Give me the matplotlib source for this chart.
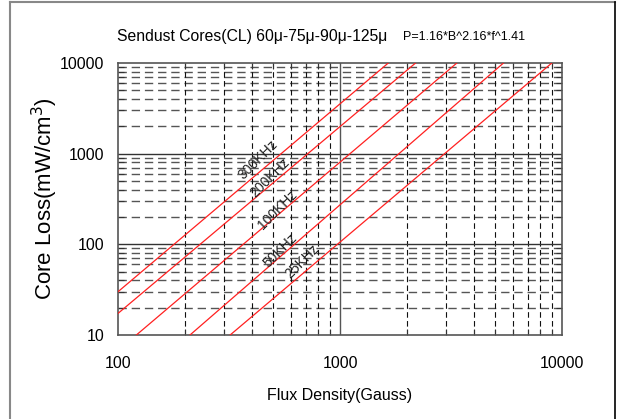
import matplotlib
matplotlib.use("Agg")
import matplotlib.pyplot as plt
from matplotlib.ticker import LogLocator, NullFormatter, FixedLocator
from matplotlib.lines import Line2D

plt.rcParams["font.family"] = ["Liberation Sans", "DejaVu Sans"]

# curves: start point and end point of each straight line
freq_labels = ["300KHz", "200KHz", "100KHz", "50KHz", "25KHz"]
b_start = [100, 100, 121, 211, 320]
p_start = [30, 17.3, 10, 10, 10]
b_end = [1650, 2190, 3360, 5450, 9000]
p_end = [10000, 10000, 10000, 10000, 10000]

# label centres (data coords)
label_b = [427, 484, 526, 537, 675]
label_p = [850, 538, 239, 86, 64]

x_ticks = [100, 1000, 10000]
y_ticks = [10, 100, 1000, 10000]

fig = plt.figure(figsize=(6.21, 4.19), dpi=100)
ax = fig.add_axes([118/621, 1-335/419, (562-118)/621, (335-63)/419])
ax.set_xscale("log")
ax.set_yscale("log")
ax.set_xlim(100, 10000)
ax.set_ylim(10, 10000)

# grids: minor dashed, major solid
minor = [m*10**e for e in range(1, 4) for m in range(2, 10)]
for y in minor:
    ax.axhline(y, color="#555555", lw=1.0, ls=(0, (6, 3.5)), zorder=1)
for x in [m*10**e for e in range(2, 4) for m in range(2, 10)]:
    ax.axvline(x, color="#111111", lw=0.8, ls=(0, (5, 3)), zorder=1)
for y in [100, 1000]:
    ax.axhline(y, color="#333333", lw=1.0, zorder=1)
ax.axvline(1000, color="#555555", lw=1.0, zorder=1)

for i in range(len(freq_labels)):
    ax.plot([b_start[i], b_end[i]], [p_start[i], p_end[i]],
            color="#ff2020", lw=0.9, zorder=3)
    ax.text(label_b[i], label_p[i], freq_labels[i], rotation=45,
            ha="center", va="center", fontsize=10, color="#222222", zorder=4)

ax.xaxis.set_major_locator(FixedLocator(x_ticks))
ax.yaxis.set_major_locator(FixedLocator(y_ticks))
ax.set_xticklabels([str(v) for v in x_ticks])
ax.set_yticklabels([str(v) for v in y_ticks])
ax.xaxis.set_minor_locator(LogLocator(base=10, subs=range(2, 10)))
ax.yaxis.set_minor_locator(LogLocator(base=10, subs=range(2, 10)))
ax.xaxis.set_minor_formatter(NullFormatter())
ax.yaxis.set_minor_formatter(NullFormatter())
ax.tick_params(which="both", direction="in", top=True, right=True,
               colors="#333333", labelcolor="black")
ax.tick_params(which="major", length=0, labelsize=11.5)
ax.tick_params(axis="x", which="major", pad=15)
ax.tick_params(axis="y", which="major", pad=10)
ax.tick_params(which="minor", length=4, width=0.8)
for s in ax.spines.values():
    s.set_color("#555555")
    s.set_linewidth(1.2)

ax.set_xlabel("Flux Density(Gauss)", fontsize=11.5, labelpad=12)
ax.set_ylabel("Core Loss(mW/cm$^3$)", fontsize=16, labelpad=0)

fig.text(117/621, 1-37/419, "Sendust Cores(CL) 60\u03bc-75\u03bc-90\u03bc-125\u03bc",
         fontsize=11.3, ha="left", va="center")
fig.text(403/621, 1-37/419, "P=1.16*B^2.16*f^1.41",
         fontsize=9, ha="left", va="center")

# outer frame of the picture
fig.add_artist(Line2D([10/621, 10/621], [0, 1-2/419], color="#888888", lw=1.5,
                      transform=fig.transFigure))
fig.add_artist(Line2D([10/621, 615/621], [1-2/419, 1-2/419], color="#888888", lw=1.5,
                      transform=fig.transFigure))
fig.add_artist(Line2D([615/621, 615/621], [0, 1-2/419], color="black", lw=1.2,
                      transform=fig.transFigure))

fig.savefig("out.png", dpi=100)
